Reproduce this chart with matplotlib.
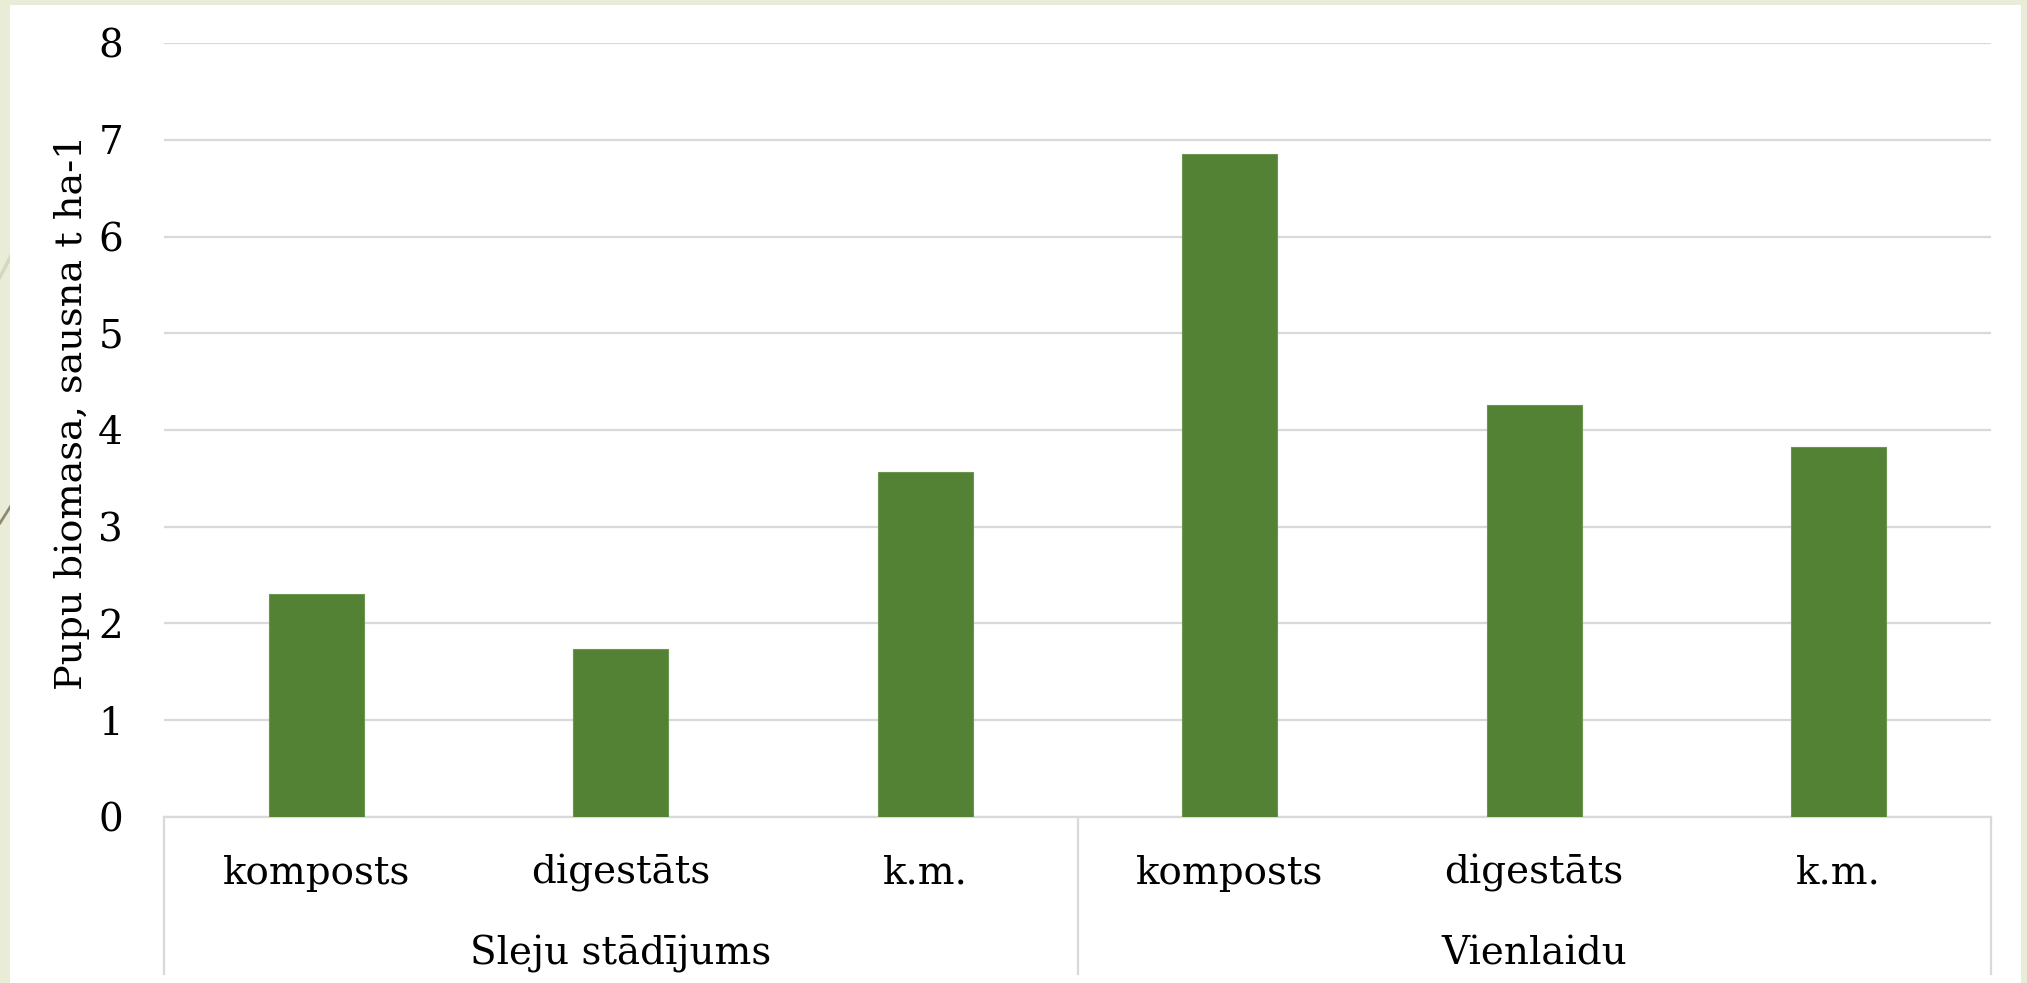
import matplotlib
matplotlib.use("Agg")
import matplotlib.pyplot as plt
from matplotlib.lines import Line2D
from matplotlib.patches import Rectangle

# Data
groups = ["Sleju stādījums", "Vienlaidu"]
treatments = ["komposts", "digestāts", "k.m."]
sleju_values = [2.30, 1.73, 3.57]
vienlaidu_values = [6.86, 4.26, 3.82]
y_ticks = [0, 1, 2, 3, 4, 5, 6, 7, 8]
y_label = "Pupu biomasa, sausna t ha-1"

W, H = 2027, 983
DPI = 100
FONT = "DejaVu Serif"
FS = 28
BAR_COLOR = "#548235"
GRID_COLOR = "#D9D9D9"

fig = plt.figure(figsize=(W / DPI, H / DPI), dpi=DPI)
fig.patch.set_facecolor("#E9EDD7")

# Decorative strokes on the slide background
fig.add_artist(Line2D([0 / W, 40 / W], [1 - 277 / H, 1 - 200 / H],
                      transform=fig.transFigure, color="#D3D8BE", lw=2.5, zorder=0))
fig.add_artist(Line2D([0 / W, 40 / W], [1 - 523 / H, 1 - 460 / H],
                      transform=fig.transFigure, color="#8E8A72", lw=2.0, zorder=0))

# White chart panel
fig.add_artist(Rectangle((10 / W, 0), (2021 - 10) / W, 1 - 5 / H,
                         transform=fig.transFigure, facecolor="white",
                         edgecolor="none", zorder=1))

left, right = 164 / W, 1991 / W
bottom, top = 1 - 816.7 / H, 1 - 43.3 / H
ax = fig.add_axes([left, bottom, right - left, top - bottom])
ax.set_zorder(2)
ax.patch.set_alpha(0)

values = sleju_values + vienlaidu_values
labels = treatments + treatments
x = list(range(len(values)))
ax.bar(x, values, width=0.313, color=BAR_COLOR, edgecolor="#6E9452",
       linewidth=0.8, zorder=3)

ax.set_xlim(-0.5, len(values) - 0.5)
ax.set_ylim(0, 8)
ax.set_yticks(y_ticks)
ax.set_yticklabels([str(t) for t in y_ticks], fontfamily=FONT, fontsize=FS)
ax.tick_params(axis="y", length=0, pad=29.5)
ax.set_xticks([])
ax.yaxis.grid(True, color=GRID_COLOR, linewidth=1.6, zorder=0)
ax.set_axisbelow(True)
for s in ["left", "right", "top"]:
    ax.spines[s].set_visible(False)
ax.spines["bottom"].set_color(GRID_COLOR)
ax.spines["bottom"].set_linewidth(1.6)

# Two-level category axis
tr = ax.get_xaxis_transform()
ax_h = 816.7 - 43.3
y_cat = -(873 - 816.7) / ax_h
y_grp = -(954 - 816.7) / ax_h
y_end = -(974 - 816.7) / ax_h
for xi, lab in zip(x, labels):
    ax.text(xi, y_cat, lab, transform=tr, ha="center", va="center",
            fontfamily=FONT, fontsize=FS, clip_on=False)
n = len(treatments)
for gi, g in enumerate(groups):
    ax.text(gi * n + (n - 1) / 2, y_grp, g, transform=tr, ha="center",
            va="center", fontfamily=FONT, fontsize=FS, clip_on=False)
for sep in [-0.5, n - 0.5, 2 * n - 0.5]:
    ax.add_line(Line2D([sep, sep], [0, y_end], transform=tr, color=GRID_COLOR,
                       linewidth=1.6, clip_on=False))

fig.text(72 / W, 1 - 412 / H, y_label, rotation=90, ha="center", va="center",
         fontfamily=FONT, fontsize=27.5, zorder=3)

fig.savefig("out.png", dpi=DPI)
